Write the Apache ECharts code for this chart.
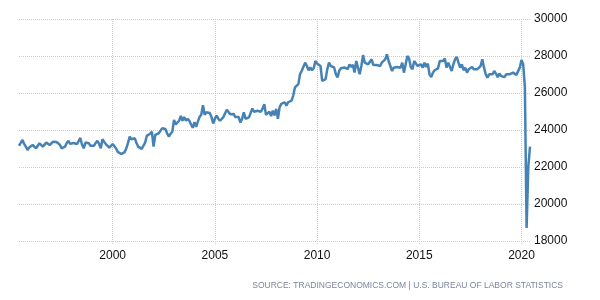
<!DOCTYPE html>
<html>
<head>
<meta charset="utf-8">
<script src="https://cdn.jsdelivr.net/npm/echarts@6/dist/echarts.min.js"></script>
<style>
html,body{margin:0;padding:0;background:#fff;}
#c{width:600px;height:300px;}
</style>
</head>
<body>
<div id="c"></div>
<script>
// Monthly values, June 1995 .. June 2020 (thousands)
const startYear = 1995;
const startMonth = 6;
const values = [
  // 1995 Jun-Dec
  23150, 23300, 23460, 23250, 23100, 22920, 23050,
  // 1996
  23150, 23190, 23100, 23010, 23150, 23280, 23200, 23100, 23200, 23320, 23250, 23190,
  // 1997
  23280, 23370, 23330, 23350, 23370, 23200, 23010, 23050, 23100, 23300, 23420, 23250,
  // 1998
  23190, 23300, 23370, 23240, 23400, 23570, 23200, 23010, 23320, 23300, 23280, 23150,
  // 1999
  23060, 23150, 23300, 23420, 23250, 23010, 23500, 23350, 23240, 23150, 23050, 22960,
  // 2000
  23240, 23220, 23000, 22820, 22750, 22700, 22650, 22800, 23010, 23300, 23640, 23500,
  // 2001
  23460, 23550, 23300, 23100, 23050, 22980, 22960, 23300, 23680, 23730, 23800, 23910,
  // 2002
  23100, 23730, 23750, 23820, 23950, 24090, 24000, 24050, 23800, 23640, 23800, 23910,
  // 2003
  24540, 24300, 24270, 24500, 24760, 24500, 24700, 24500, 24610, 24500, 24300, 24120,
  // 2004
  24430, 24170, 24450, 24700, 24820, 25340, 24820, 24960, 24880, 24920, 24700, 24350,
  // 2005
  24610, 24780, 24610, 24500, 24430, 24700, 24900, 25100, 25040, 24850, 24780, 24870,
  // 2006
  24700, 24610, 24700, 24400, 24600, 24960, 24610, 24650, 24680, 24700, 25160, 24990,
  // 2007
  25000, 25040, 25130, 24990, 25150, 25390, 24820, 24750, 24990, 24750, 25050, 24790,
  // 2008
  25140, 24610, 25230, 25410, 25320, 25500, 25320, 25500, 25410, 25590, 25860, 26300,
  // 2009
  26390, 26480, 27020, 27200, 27230, 27640, 27460, 27230, 27380, 27230, 27340, 27730,
  // 2010
  27590, 27590, 27460, 26660, 26570, 26750, 27290, 27640, 27460, 27550, 27380, 27020,
  // 2011
  26840, 27200, 27340, 27300, 27380, 27410, 27290, 27550, 27410, 27520, 27110, 27730,
  // 2012
  27820, 27010, 27460, 28050, 27640, 27640, 27550, 27690, 27820, 27510, 27550, 27510,
  // 2013
  27550, 27460, 27640, 27700, 27820, 28090, 27730, 27460, 27190, 27370, 27390, 27410,
  // 2014
  27510, 27370, 27640, 27100, 27550, 28000, 27870, 27410, 27280, 27730, 27640, 27460,
  // 2015
  27510, 27550, 27370, 27640, 27410, 27590, 27010, 26860, 27100, 27230, 27280, 27330,
  // 2016
  27730, 27820, 27730, 27870, 27370, 27640, 27550, 27190, 27550, 27820, 27950, 27640,
  // 2017
  27370, 27550, 27230, 27370, 27100, 27280, 27230, 27410, 27280, 27190, 27280, 27280,
  // 2018
  27460, 27820, 27370, 27010, 26830, 27010, 26920, 27010, 27190, 27050, 26860, 27050,
  // 2019
  26920, 27010, 26860, 27010, 26960, 27010, 27050, 27100, 27050, 26980, 27010, 27370,
  // 2020 Jan-Jun
  27780, 27550, 26300, 18700, 22000, 23100
];
const yearTicks = ['2000', '2005', '2010', '2015', '2020'];
const yMin = 18000, yMax = 30000, yStep = 2000;
const sourceText = 'SOURCE: TRADINGECONOMICS.COM | U.S. BUREAU OF LABOR STATISTICS';

const categories = values.map((v, i) => {
  const t = (startMonth - 1) + i;
  const y = startYear + Math.floor(t / 12);
  const m = (t % 12) + 1;
  return y + '-' + (m < 10 ? '0' + m : '' + m);
});
const tickSet = new Set(yearTicks.map(y => y + '-01'));
const isTick = (idx, val) => tickSet.has(categories[idx]);

const chart = echarts.init(document.getElementById('c'), null, {renderer: 'canvas'});
chart.setOption({
  animation: false,
  backgroundColor: '#ffffff',
  grid: {left: 19, right: 70, top: 19, bottom: 59, containLabel: false},
  xAxis: {
    type: 'category',
    data: categories,
    boundaryGap: false,
    axisLine: {show: false},
    axisTick: {show: true, interval: isTick, length: 4, lineStyle: {color: '#cccccc', type: 'dotted'}},
    splitLine: {show: true, interval: isTick, lineStyle: {color: '#cccccc', type: 'dotted', width: 1}},
    axisLabel: {
      interval: isTick,
      formatter: v => v.slice(0, 4),
      color: '#111',
      fontFamily: 'Liberation Sans, Arial, sans-serif',
      fontSize: 12,
      margin: 9
    }
  },
  yAxis: {
    type: 'value',
    position: 'right',
    min: yMin, max: yMax, interval: yStep,
    axisLine: {show: false},
    axisTick: {show: false},
    splitLine: {show: true, lineStyle: {color: '#cccccc', type: 'dotted', width: 1}},
    axisLabel: {
      color: '#111',
      formatter: v => String(v),
      fontFamily: 'Liberation Sans, Arial, sans-serif',
      fontSize: 12,
      margin: 4
    }
  },
  series: [{
    type: 'line',
    data: values,
    showSymbol: false,
    symbol: 'none',
    lineStyle: {color: '#4682b4', width: 2.5},
    itemStyle: {color: '#4682b4'}
  }],
  graphic: [{
    type: 'text',
    right: 37,
    top: 281,
    style: {
      text: sourceText,
      fill: '#7a869c',
      font: '8.5px "Liberation Sans", Arial, sans-serif'
    }
  }]
});
</script>
</body>
</html>
